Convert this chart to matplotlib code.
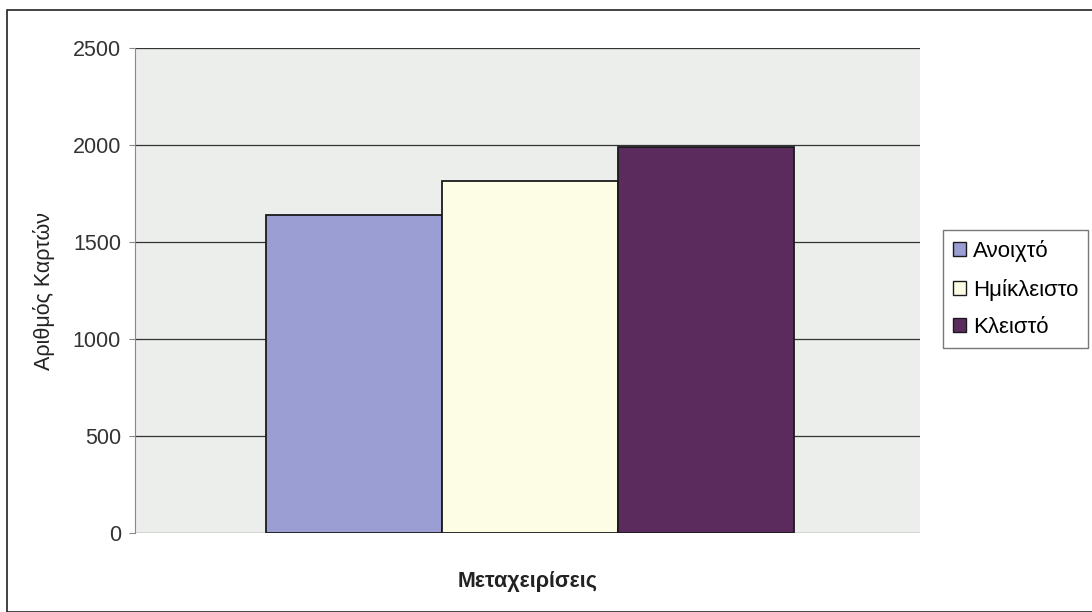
import matplotlib
matplotlib.use("Agg")
import matplotlib.pyplot as plt
from matplotlib.patches import Rectangle

plt.rcParams["font.family"] = ["Liberation Sans", "DejaVu Sans"]

series_names = ["Ανοιχτό", "Ημίκλειστο", "Κλειστό"]
series_values = [1640, 1815, 1990]
series_colors = ["#9b9ed2", "#fdfde6", "#5c2b5e"]
y_ticks = [0, 500, 1000, 1500, 2000, 2500]

fig = plt.figure(figsize=(10.92, 6.12), dpi=100)
ax = fig.add_axes([0.1236, 0.129, 0.719, 0.7926])

# outer chart border
fig.patches.append(Rectangle((7 / 1092, 0.0), 1.2, 1 - 10 / 612, transform=fig.transFigure,
                             fill=False, edgecolor="#222222", linewidth=1.2))

ax.set_facecolor("#eceeec")
positions = [-1, 0, 1]
for pos, val, col, name in zip(positions, series_values, series_colors, series_names):
    ax.bar(pos, val, width=1.0, color=col, edgecolor="#1a1a1a", linewidth=1.3, label=name, zorder=3)

ax.set_ylim(0, 2500)
ax.set_xlim(-2.244, 2.216)
ax.set_yticks(y_ticks)
ax.set_xticks([])
ax.yaxis.grid(True, color="#333333", linewidth=0.9, zorder=1)
ax.tick_params(axis="y", labelsize=15.5, length=4, color="#888888", labelcolor="#333333", pad=6)

for side in ["top", "right", "bottom"]:
    ax.spines[side].set_visible(False)
ax.spines["left"].set_color("#888888")

ax.set_ylabel("Αριθμός Καρτών", fontsize=15.5, labelpad=13, color="#222222")
ax.set_xlabel("Μεταχειρίσεις", fontsize=15.5, fontweight="bold", labelpad=27, color="#222222")

leg = fig.legend(loc="center left", bbox_to_anchor=(943 / 1092, 1 - 289 / 612), fontsize=16,
                 frameon=True, fancybox=False, edgecolor="#555555", handlelength=0.6,
                 handleheight=0.6, handletextpad=0.3, borderpad=0.45, labelspacing=0.75,
                 borderaxespad=0)
for h in leg.legend_handles:
    h.set_edgecolor("#1a1a1a")
    h.set_linewidth(1.0)

fig.savefig("out.png", dpi=100)
